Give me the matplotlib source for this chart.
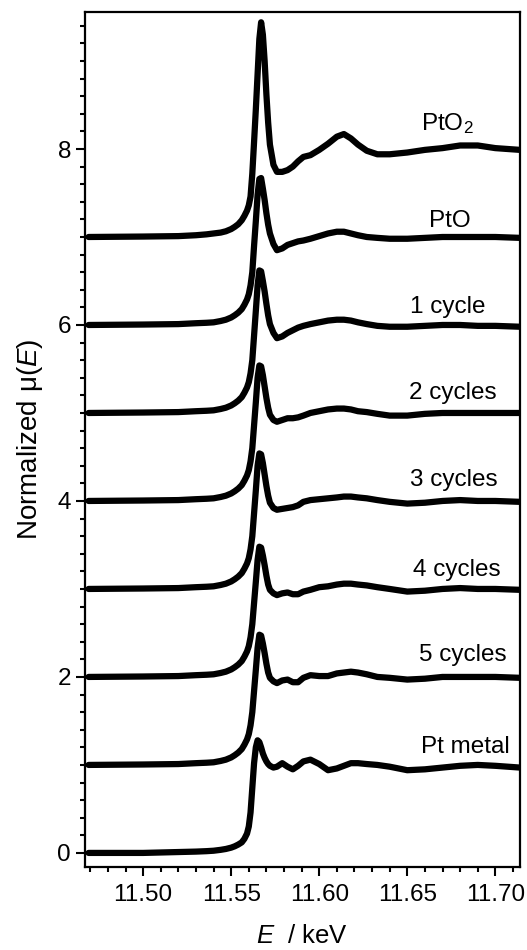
import numpy as np
import matplotlib
matplotlib.use("Agg")
import matplotlib.pyplot as plt
from matplotlib.ticker import MultipleLocator, FormatStrFormatter

plt.rcParams['font.family'] = ['Liberation Sans', 'DejaVu Sans']
plt.rcParams['mathtext.fontset'] = 'custom'
plt.rcParams['mathtext.rm'] = 'Liberation Sans'
plt.rcParams['mathtext.it'] = 'Liberation Sans:italic'

# Pt L3-edge XANES, normalized absorption, energy in keV
energy = [11.469, 11.500, 11.520, 11.530, 11.536, 11.540, 11.544, 11.547, 11.550,
          11.552, 11.554, 11.556, 11.5575, 11.559, 11.560,
          11.561, 11.562, 11.563, 11.564, 11.565, 11.566, 11.567, 11.568, 11.569,
          11.570, 11.571, 11.572, 11.574, 11.576,
          11.579, 11.582, 11.585, 11.588, 11.591, 11.595, 11.600, 11.605, 11.610,
          11.614, 11.618, 11.622, 11.627, 11.633, 11.640, 11.650, 11.660, 11.670,
          11.680, 11.690, 11.700, 11.714]

mu_pt_metal = [0.00, 0.00, 0.01, 0.015, 0.02, 0.025, 0.035, 0.045, 0.06,
               0.075, 0.095, 0.12, 0.16, 0.22, 0.30,
               0.46, 0.74, 1.02, 1.20, 1.28, 1.26, 1.20, 1.13, 1.08,
               1.04, 1.01, 0.99, 0.97, 0.98,
               1.02, 0.98, 0.95, 0.99, 1.04, 1.06, 1.01, 0.94, 0.96,
               0.99, 1.02, 1.02, 1.01, 1.00, 0.98, 0.94, 0.95, 0.97,
               0.99, 1.00, 0.99, 0.97]
mu_5cyc = [0.00, 0.005, 0.01, 0.02, 0.025, 0.03, 0.045, 0.06, 0.085,
           0.11, 0.14, 0.18, 0.23, 0.29, 0.35,
           0.45, 0.60, 0.84, 1.08, 1.33, 1.48, 1.47, 1.38, 1.27,
           1.15, 1.05, 0.99, 0.95, 0.93,
           0.96, 0.97, 0.94, 0.94, 0.99, 1.02, 1.01, 1.01, 1.04,
           1.05, 1.06, 1.05, 1.03, 1.00, 0.99, 0.97, 0.98, 1.00,
           1.00, 1.00, 1.00, 0.99]
mu_4cyc = [0.00, 0.005, 0.01, 0.02, 0.025, 0.03, 0.045, 0.06, 0.085,
           0.11, 0.14, 0.18, 0.23, 0.29, 0.35,
           0.45, 0.60, 0.84, 1.08, 1.33, 1.48, 1.47, 1.38, 1.27,
           1.15, 1.05, 0.99, 0.95, 0.93,
           0.95, 0.96, 0.94, 0.94, 0.97, 0.99, 1.02, 1.03, 1.05,
           1.06, 1.06, 1.05, 1.04, 1.02, 1.00, 0.97, 0.98, 1.00,
           1.01, 1.00, 1.00, 0.99]
mu_3cyc = [0.00, 0.005, 0.01, 0.02, 0.025, 0.03, 0.045, 0.06, 0.085,
           0.11, 0.14, 0.18, 0.23, 0.29, 0.35,
           0.45, 0.60, 0.86, 1.12, 1.40, 1.54, 1.53, 1.43, 1.30,
           1.17, 1.06, 0.98, 0.92, 0.90,
           0.91, 0.92, 0.93, 0.95, 0.99, 1.01, 1.02, 1.03, 1.04,
           1.05, 1.05, 1.04, 1.03, 1.01, 0.99, 0.97, 0.98, 1.00,
           1.01, 1.00, 1.00, 0.99]
mu_2cyc = [0.00, 0.005, 0.01, 0.02, 0.025, 0.03, 0.045, 0.06, 0.085,
           0.11, 0.14, 0.18, 0.23, 0.29, 0.35,
           0.45, 0.60, 0.86, 1.12, 1.40, 1.54, 1.53, 1.43, 1.30,
           1.17, 1.06, 0.98, 0.92, 0.90,
           0.92, 0.94, 0.94, 0.95, 0.97, 1.00, 1.02, 1.04, 1.05,
           1.05, 1.04, 1.02, 1.01, 0.99, 0.97, 0.97, 0.99, 1.00,
           1.00, 1.00, 1.00, 1.00]
mu_1cyc = [0.00, 0.005, 0.01, 0.02, 0.025, 0.03, 0.045, 0.06, 0.085,
           0.11, 0.14, 0.18, 0.23, 0.29, 0.35,
           0.45, 0.60, 0.88, 1.16, 1.45, 1.62, 1.61, 1.50, 1.38,
           1.24, 1.11, 1.01, 0.91, 0.85,
           0.87, 0.91, 0.94, 0.97, 0.99, 1.01, 1.03, 1.05, 1.06,
           1.06, 1.05, 1.03, 1.01, 0.99, 0.98, 0.98, 0.99, 1.00,
           1.00, 0.99, 0.99, 0.98]
mu_pto = [0.00, 0.005, 0.01, 0.02, 0.025, 0.03, 0.045, 0.06, 0.085,
          0.11, 0.14, 0.18, 0.23, 0.29, 0.35,
          0.45, 0.60, 0.90, 1.18, 1.48, 1.66, 1.67, 1.55, 1.42,
          1.27, 1.14, 1.04, 0.92, 0.85,
          0.87, 0.91, 0.93, 0.95, 0.96, 0.98, 1.01, 1.04, 1.06,
          1.06, 1.04, 1.02, 1.00, 0.99, 0.98, 0.98, 0.99, 1.00,
          1.00, 1.00, 1.00, 0.99]
mu_pto2 = [0.00, 0.005, 0.01, 0.02, 0.03, 0.04, 0.05, 0.065, 0.09,
           0.115, 0.145, 0.19, 0.24, 0.30, 0.36,
           0.46, 0.72, 1.08, 1.45, 1.85, 2.25, 2.44, 2.30, 2.00,
           1.62, 1.30, 1.05, 0.82, 0.74,
           0.74, 0.76, 0.80, 0.86, 0.91, 0.93, 0.99, 1.06, 1.14,
           1.17, 1.12, 1.05, 0.98, 0.94, 0.94, 0.96, 0.99, 1.01,
           1.04, 1.04, 1.01, 0.99]

spectra = [mu_pt_metal, mu_5cyc, mu_4cyc, mu_3cyc, mu_2cyc, mu_1cyc, mu_pto, mu_pto2]
names = ['Pt metal', '5 cycles', '4 cycles', '3 cycles', '2 cycles', '1 cycle',
         'PtO', 'PtO$_2$']
offsets = [0, 1, 2, 3, 4, 5, 6, 7]

# label anchors: x centre and text baseline, data units
label_x = [11.6827, 11.6818, 11.6784, 11.6764, 11.6756, 11.6727, 11.6744, 11.6727]
label_y = [1.13, 2.18, 3.15, 4.17, 5.16, 6.14, 7.11, 8.22]

fig = plt.figure(figsize=(5.27, 9.5), dpi=100)
ax = fig.add_axes([85 / 527, 1 - 867 / 950, 435 / 527, 855 / 950])

for mu, off in zip(spectra, offsets):
    ax.plot(energy, np.array(mu) + off, color='black', lw=4.5,
            solid_joinstyle='round', solid_capstyle='round')

for name, lx, ly in zip(names, label_x, label_y):
    ax.text(lx, ly, name, ha='center', va='baseline', fontsize=17.5)

ax.set_xlim(11.467, 11.714)
ax.set_ylim(-0.16, 9.557)
ax.xaxis.set_major_locator(MultipleLocator(0.05))
ax.xaxis.set_minor_locator(MultipleLocator(0.01))
ax.yaxis.set_major_locator(MultipleLocator(2))
ax.yaxis.set_minor_locator(MultipleLocator(0.2))
ax.xaxis.set_major_formatter(FormatStrFormatter('%.2f'))

ax.tick_params(which='both', direction='out', width=1.5, labelsize=17.5)
ax.tick_params(which='major', length=6.5)
ax.tick_params(which='minor', length=3.5)
ax.tick_params(axis='x', pad=6)
for s in ax.spines.values():
    s.set_linewidth(1.6)

ax.set_xlabel(r'$\mathit{E}$  / keV', fontsize=18.5, labelpad=13)
ax.set_ylabel(r'Normalized μ($\mathit{E}$)', fontsize=20, labelpad=9)

fig.savefig('out.png', dpi=100)
